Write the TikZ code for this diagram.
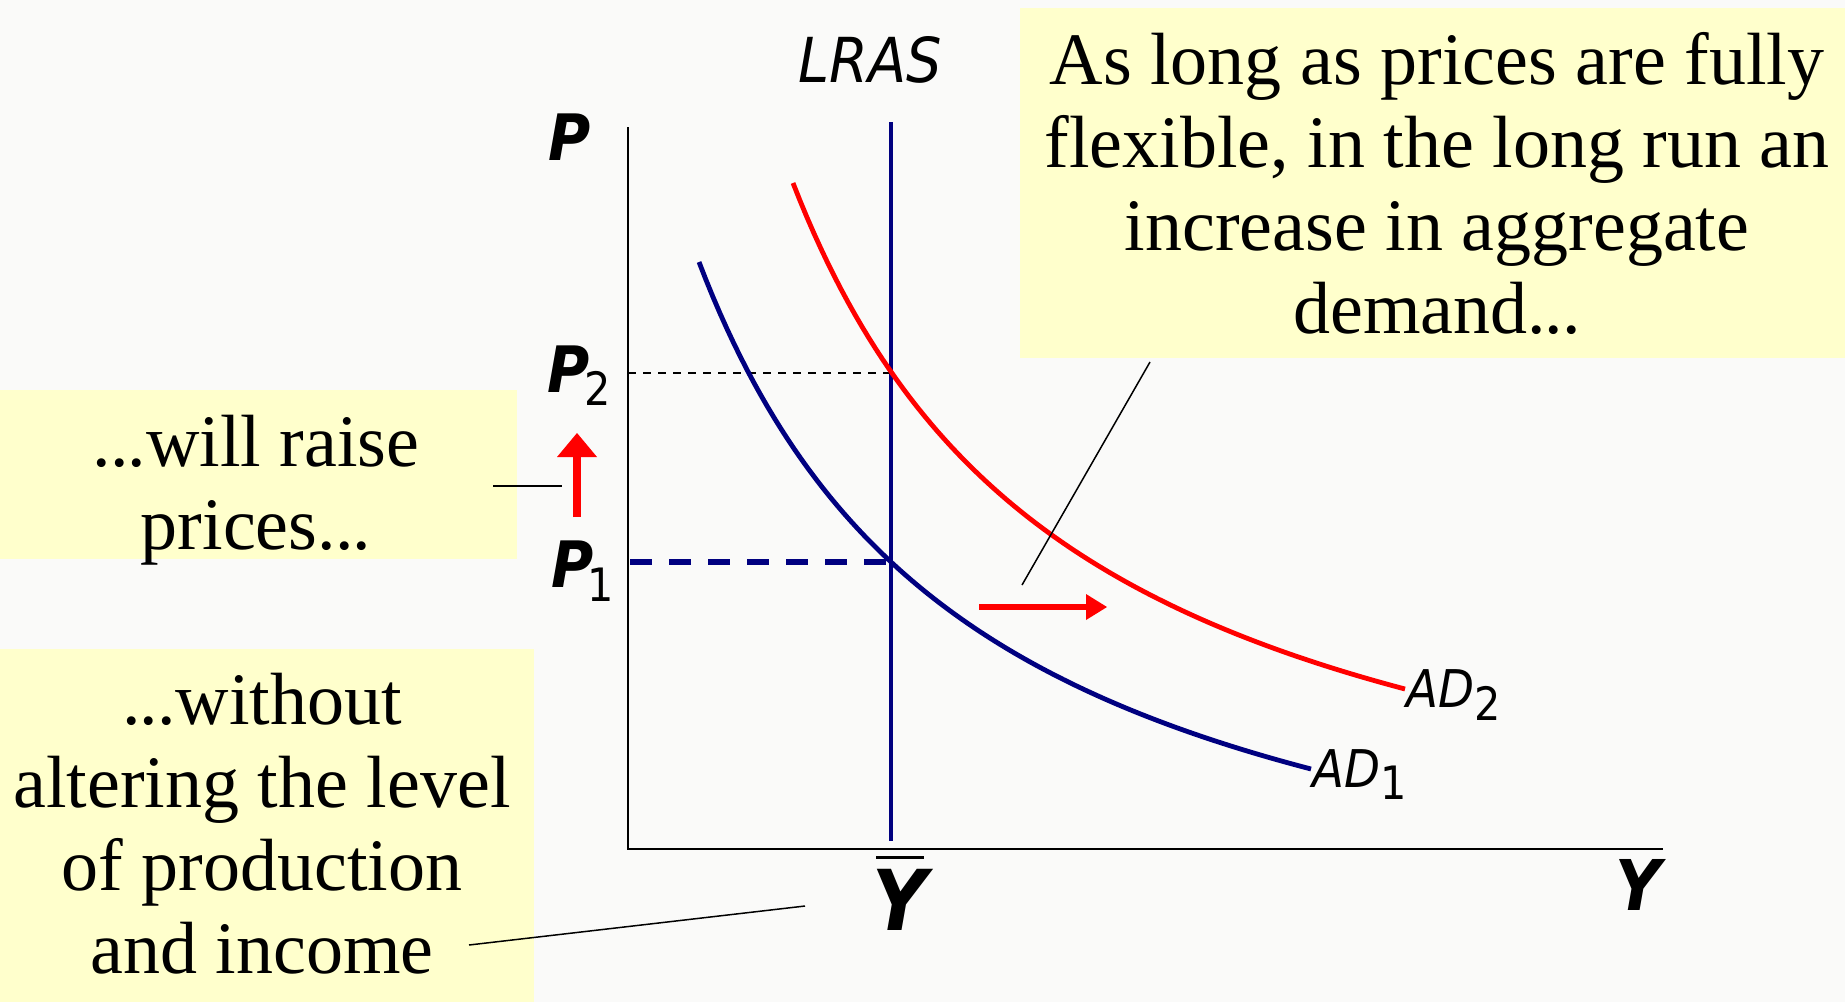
\documentclass[tikz,border=0pt]{standalone}
\usepackage{fontspec}
\setmainfont{Liberation Serif}
\newfontfamily\sansf[FakeStretch=0.9]{DejaVu Sans}
\usetikzlibrary{arrows.meta,calc}
\definecolor{bgc}{HTML}{FAFAF9}
\definecolor{boxy}{HTML}{FFFFCC}
\definecolor{navyc}{HTML}{000080}
\definecolor{adred}{HTML}{FF0000}
\newcommand\bfitsf{\sansf\bfseries\itshape}
\newcommand\itsf{\sansf\itshape}
\newcommand\subsf{\normalfont\sansf\fontsize{23}{26}\selectfont}
\newcommand\dotsx{.\kern-0.5pt.\kern-0.5pt.}
\begin{document}
\begin{tikzpicture}[x=0.5pt,y=-0.5pt,
  note/.style={font=\fontsize{37}{41.5}\selectfont, align=center, inner sep=0pt},
  lab/.style={inner sep=0pt, anchor=base west},
  leader/.style={line width=0.75pt, black},
  curve/.style={line width=2.4pt},
  axisline/.style={line width=1.2pt, black},
]
\useasboundingbox (0,0) rectangle (1845,1002);
\fill[bgc] (0,0) rectangle (1845,1002);

% yellow note boxes
\fill[boxy] (1020,8) rectangle (1845,358);
\fill[boxy] (0,390) rectangle (517,559);
\fill[boxy] (0,649) rectangle (534,1002);

\node[note] (t1) at (1437,183) {As long as prices are fully\\flexible, in the long run an\\increase in aggregate\\demand\dotsx};
\node[note] (t2) at (256,490) {\dotsx will raise\\prices\dotsx};
\node[note] (t3) at (262,824) {\dotsx without\\altering the level\\of production\\and income};

% axes
\coordinate (ytop) at (628,127);
\coordinate (O) at (628,849);
\coordinate (xend) at (1663,849);
\draw[axisline] (ytop) -- (O) -- (xend);

% LRAS
\coordinate (lrasT) at (891,122);
\coordinate (lrasB) at (891,841);
\draw[navyc, line width=2.4pt] (lrasT) -- (lrasB);

% price levels
\coordinate (p2a) at (628,373);
\coordinate (e2) at (891,373);
\coordinate (p1a) at (630,562);
\coordinate (e1) at (891,562);
\draw[black, line width=0.8pt, dash pattern=on 4pt off 3.5pt] (p2a) -- (e2);
\draw[navyc, line width=2.6pt, dash pattern=on 11pt off 8.5pt] (p1a) -- (e1);

% AD curves
\draw[curve, adred] plot[domain=16.5:77.7, samples=90] ({628+10*\x}, {849-10*(2149.96/(\x+12.37)-7.87)});
\draw[curve, navyc] plot[domain=7.1:68.3, samples=90] ({628+10*\x}, {849-10*(2088.49/(\x+21.1)-15.36)});

% red arrows (shaft + explicit head)
\coordinate (upA) at (577,517);
\coordinate (upB) at (577,433);
\draw[adred, line width=4pt] (upA) -- ($(upB)+(0,20)$);
\fill[adred] (upB) -- ($(upB)+(-20,24)$) -- ($(upB)+(20,24)$) -- cycle;
\coordinate (rtA) at (979,607);
\coordinate (rtB) at (1107,607);
\draw[adred, line width=2.6pt] (rtA) -- ($(rtB)+(-17,0)$);
\fill[adred] (rtB) -- ($(rtB)+(-21,-13)$) -- ($(rtB)+(-21,13)$) -- cycle;

% leader lines
\coordinate (l2a) at (493,486);
\coordinate (l2b) at (562,486);
\draw[leader] (l2a) -- (l2b);
\coordinate (l1a) at (1150,362);
\coordinate (l1b) at (1022,585);
\draw[leader] (l1a) -- (l1b);
\coordinate (l3a) at (469,945);
\coordinate (l3b) at (805,906);
\draw[leader] (l3a) -- (l3b);

% labels
\node[lab] (plab) at (548,160) {\bfitsf\fontsize{32}{36}\selectfont P};
\node[lab] (p2lab) at (547,392) {\bfitsf\fontsize{32}{36}\selectfont P\kern-2.5pt\raisebox{-6.5pt}{\subsf 2}};
\node[lab] (p1lab) at (551,587) {\bfitsf\fontsize{32}{36}\selectfont P\kern-3pt\raisebox{-7pt}{\subsf 1}};
\node[lab] (lras) at (798,82) {\itsf\fontsize{31}{36}\selectfont LRAS};
\node[lab] (ad2) at (1406,707) {\itsf\fontsize{26}{30}\selectfont AD\raisebox{-6.5pt}{\subsf 2}};
\node[lab] (ad1) at (1312,787) {\itsf\fontsize{26}{30}\selectfont AD\raisebox{-6pt}{\subsf 1}};
\node[lab] (ylab) at (1615,910) {\bfitsf\fontsize{35}{40}\selectfont Y};
\node[lab] (ybar) at (872,930) {\bfitsf\fontsize{42}{48}\selectfont Y};
\draw[black, line width=1.5pt] ($(ybar.north west)+(4,-11)$) -- ($(ybar.north west)+(52,-11)$);
\end{tikzpicture}
\end{document}
